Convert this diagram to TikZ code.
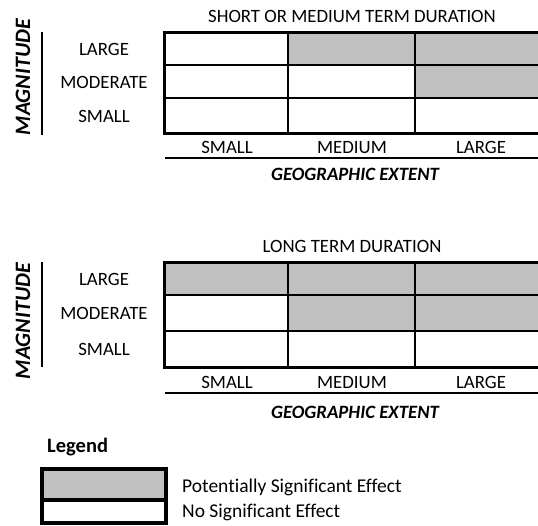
\documentclass[tikz,border=0pt]{standalone}
\usepackage{fontspec}
\setmainfont{Carlito}[Ligatures=NoCommon]
\usetikzlibrary{positioning}
\definecolor{effgray}{RGB}{192,192,192}
\tikzset{
    hit/.style={fill=effgray},
    gridline/.style={line width=1.5pt},
    frame/.style={line width=3pt},
    lbl/.style={font=\fontsize{18.8}{20}\selectfont, inner sep=0pt, text height=12pt, text depth=0pt},
    axis/.style={font=\fontsize{18.8}{20}\selectfont\bfseries\itshape, inner sep=0pt, text height=12pt, text depth=0pt},
    magn/.style={font=\fontsize{22}{24}\selectfont\bfseries\itshape, inner sep=0pt, rotate=90},
    keytext/.style={font=\fontsize{19.5}{21}\selectfont, inner sep=0pt, anchor=west},
}

\begin{document}
\begin{tikzpicture}[x=1pt, y=-1pt]
    \useasboundingbox (0,0) rectangle (538,525);

    % short or medium term
    \node [lbl] (title1) at (352,16) {SHORT OR MEDIUM TERM DURATION};
    \fill [hit] (288,32) rectangle (541,65);
    \fill [hit] (415,65) rectangle (541,98);
    \draw [gridline] (164,65) -- (541,65) (164,98) -- (541,98);
    \draw [gridline] (288,32) -- (288,133) (415,32) -- (415,133);
    \draw [frame] (164,32) rectangle (541,133);
    \node [lbl] (large1) at (104,49) {LARGE};
    \node [lbl] (moderate1) at (104,82) {MODERATE};
    \node [lbl] (small1) at (104,116) {SMALL};
    \draw [line width=2pt] (42,32) -- (42,135);
    \node [magn] (mag1) at (23,77) {MAGNITUDE};
    \node [lbl] (csmall1) at (227,147) {SMALL};
    \node [lbl] (cmedium1) at (352,147) {MEDIUM};
    \node [lbl] (clarge1) at (481,147) {LARGE};
    \draw [line width=2pt] (165,157.5) -- (541,157.5);
    \node [axis] (geo1) at (355,174) {GEOGRAPHIC EXTENT};

    % long term
    \node [lbl] (title2) at (352,246) {LONG TERM DURATION};
    \fill [hit] (164,262) rectangle (541,295);
    \fill [hit] (288,295) rectangle (541,331);
    \draw [gridline] (164,295) -- (541,295) (164,331) -- (541,331);
    \draw [gridline] (288,262) -- (288,367) (415,262) -- (415,367);
    \draw [frame] (164,262) rectangle (541,367);
    \node [lbl] (large2) at (104,279) {LARGE};
    \node [lbl] (moderate2) at (104,313) {MODERATE};
    \node [lbl] (small2) at (104,349) {SMALL};
    \draw [line width=2pt] (42,262) -- (42,367);
    \node [magn] (mag2) at (23,321) {MAGNITUDE};
    \node [lbl] (csmall2) at (227,382) {SMALL};
    \node [lbl] (cmedium2) at (352,382) {MEDIUM};
    \node [lbl] (clarge2) at (481,382) {LARGE};
    \draw [line width=2pt] (165,392.5) -- (541,392.5);
    \node [axis] (geo2) at (355,412) {GEOGRAPHIC EXTENT};

    % legend
    \node [keytext, font=\fontsize{20.5}{22}\selectfont\bfseries] (legend) at (47,447) {Legend};
    \fill [hit] (42,469) rectangle (166,500);
    \draw [line width=4pt] (42,469) rectangle (166,523) (42,500) -- (166,500);
    \node [keytext] (sig) at (182,487) {Potentially Significant Effect};
    \node [keytext] (nosig) at (182,512) {No Significant Effect};
\end{tikzpicture}
\end{document}
